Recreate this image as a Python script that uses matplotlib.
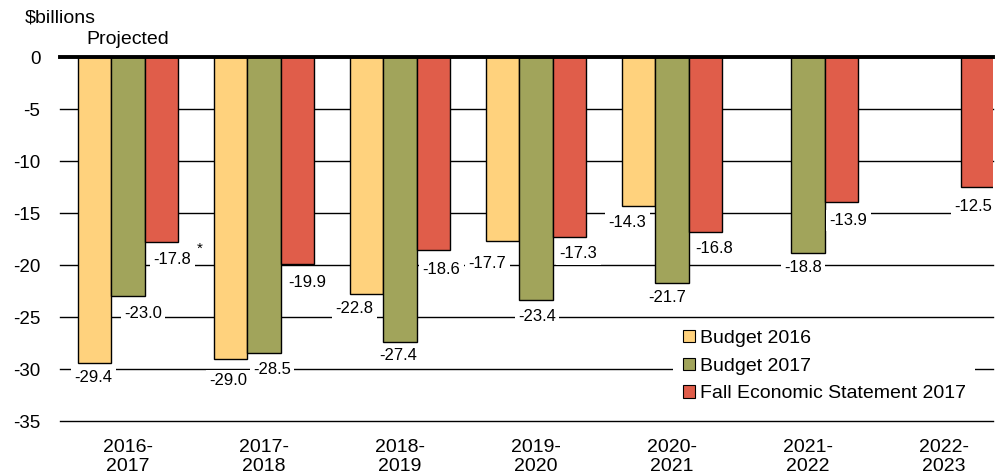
import numpy as np
import matplotlib.pyplot as plt
from matplotlib.patches import Patch

plt.rcParams['font.family'] = ['Liberation Sans', 'DejaVu Sans']

# data
years = ["2016-\n2017", "2017-\n2018", "2018-\n2019", "2019-\n2020",
         "2020-\n2021", "2021-\n2022", "2022-\n2023"]
budget_2016 = [-29.4, -29.0, -22.8, -17.7, -14.3, np.nan, np.nan]
budget_2017 = [-23.0, -28.5, -27.4, -23.4, -21.7, -18.8, np.nan]
fes_2017 = [-17.8, -19.9, -18.6, -17.3, -16.8, -13.9, -12.5]
series_names = ["Budget 2016", "Budget 2017", "Fall Economic Statement 2017"]
colors = ["#FFD27D", "#A1A45B", "#E05D4A"]

# label placement (pixels right, pixels below bar end): (series, index) -> (dx, dy)
place = {(0, 0): (-1, 14), (1, 0): (15, 16), (2, 0): (11, 16),
         (0, 1): (-2, 21), (1, 1): (8, 15), (2, 1): (10, 18),
         (0, 2): (-12, 13), (1, 2): (-2, 13), (2, 2): (8, 18),
         (0, 3): (-15, 21), (1, 3): (1, 15), (2, 3): (9, 16),
         (0, 4): (-11, 16), (1, 4): (-5, 14), (2, 4): (9, 16),
         (1, 5): (-5, 14), (2, 5): (7, 18),
         (2, 6): (-4, 18)}

fig = plt.figure(figsize=(9.99, 4.76), dpi=100)
ax = fig.add_axes([0.06, 0.1155, 0.934, 0.7647])

x = np.arange(len(years))
w = 0.247
all_series = [budget_2016, budget_2017, fes_2017]

for yy in range(-5, -40, -5):
    ax.axhline(yy, color='black', lw=1, zorder=0, clip_on=False)

for s, vals in enumerate(all_series):
    vals = np.array(vals, dtype=float)
    ax.bar(x + (s - 1) * w, vals, width=w, color=colors[s],
           edgecolor='black', linewidth=1, zorder=2)
    for i, v in enumerate(vals):
        if np.isnan(v):
            continue
        dx, dy = place.get((s, i), (0, 15))
        ax.annotate(f"{v:.1f}", xy=(x[i] + (s - 1) * w, v),
                    xytext=(dx, -dy - 1), textcoords='offset pixels',
                    ha='center', va='center', fontsize=12, zorder=4,
                    bbox=dict(boxstyle='square,pad=0.2', facecolor='white',
                              edgecolor='none'))

# asterisk beside first FES label
ax.annotate("*", xy=(x[0] + w, fes_2017[0]), xytext=(38, -7),
            textcoords='offset pixels', ha='center', va='center',
            fontsize=11, zorder=4)

ax.axhline(0, color='black', lw=2.8, zorder=5, clip_on=False)

ax.set_ylim(-35, 0)
ax.set_xlim(-0.5, 6.36)
ax.set_yticks(range(0, -40, -5))
ax.set_yticklabels([str(v) for v in range(0, -40, -5)], fontsize=13.5)
ax.set_xticks(x)
ax.set_xticklabels(years, fontsize=14, linespacing=1.15)
ax.tick_params(axis='both', length=0)
ax.tick_params(axis='y', pad=14)
ax.tick_params(axis='x', pad=13)
for sp in ax.spines.values():
    sp.set_visible(False)

handles = [Patch(facecolor=c, edgecolor='black', linewidth=0.8) for c in colors]
leg = ax.legend(handles, series_names, loc='upper left',
                bbox_to_anchor=(0.647, 0.304), fontsize=14, frameon=True,
                framealpha=1, edgecolor='none', fancybox=False,
                handlelength=0.6, handleheight=0.6, handletextpad=0.25,
                labelspacing=0.55, borderpad=0.5)
leg.set_zorder(6)

fig.text(25 / 999, 1 - 18 / 476, "$billions", fontsize=14, va='center', ha='left')
fig.text(128 / 999, 1 - 40 / 476, "Projected", fontsize=14, va='center', ha='center')

fig.savefig("out.png", dpi=100)
